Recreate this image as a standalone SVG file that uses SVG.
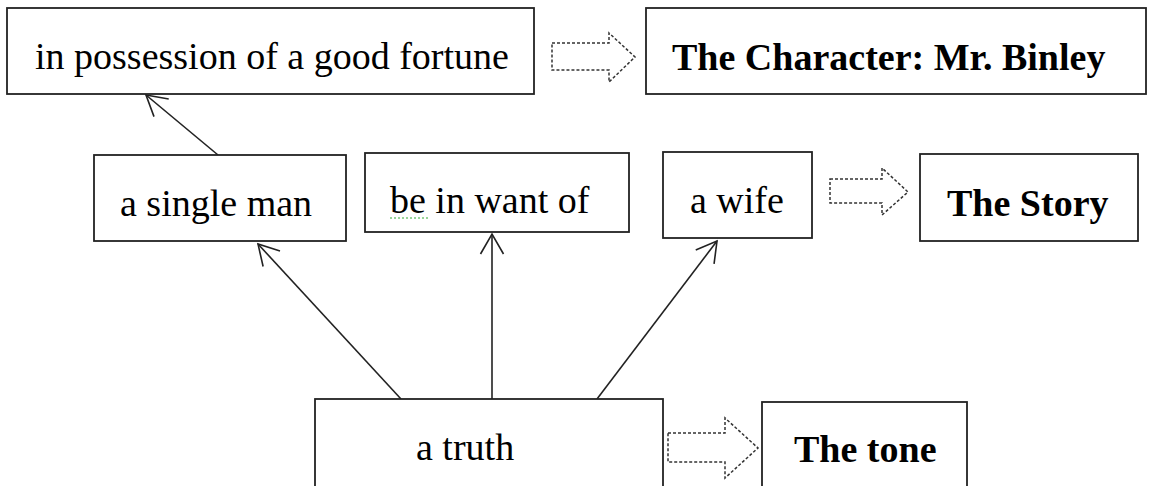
<svg xmlns="http://www.w3.org/2000/svg" width="1151" height="486" viewBox="0 0 1151 486">
<style>
.box{fill:#fff;stroke:#222;stroke-width:1.8}
.t{font-family:"Liberation Serif","Times New Roman",serif;font-size:38px;fill:#000}
.b{font-weight:bold}
.conn{stroke:#222;stroke-width:1.6;fill:none;marker-end:url(#open)}
.blk{fill:#fff;stroke:#333;stroke-width:1.5;stroke-dasharray:3 2}
</style>
<defs>
<marker id="open" markerUnits="userSpaceOnUse" markerWidth="30" markerHeight="30" refX="0" refY="0" viewBox="-25 -15 30 30" orient="auto">
<path d="M-20,-11.5 L0,0 L-20,11.5" fill="none" stroke="#222" stroke-width="1.6"/>
</marker>
</defs>
<rect width="1151" height="486" fill="#fff"/>
<g id="connectors">
<line class="conn" x1="218" y1="155" x2="146" y2="95"/>
<line class="conn" x1="401" y1="399" x2="258" y2="244"/>
<line class="conn" x1="492" y1="399" x2="492" y2="234"/>
<line class="conn" x1="597" y1="399" x2="717" y2="241"/>
<polygon class="blk" points="552,43 609,43 609,33 635,57 609,82 609,70 552,70"/>
<polygon class="blk" points="830,179 882,179 882,168 908,192 882,215 882,203 830,203"/>
<polygon class="blk" points="668,433 725,433 725,418 758,448 725,478 725,462 668,462"/>
</g>
<g id="fortune">
<rect class="box" x="7" y="8" width="527" height="86"/>
<text class="t" x="35" y="69">in possession of a good fortune</text>
</g>
<g id="character">
<rect class="box" x="646" y="8" width="500" height="86"/>
<text class="t b" x="672" y="70">The Character: Mr. Binley</text>
</g>
<g id="single-man">
<rect class="box" x="94" y="155" width="252" height="86"/>
<text class="t" x="120" y="216">a single man</text>
</g>
<g id="want-of">
<rect class="box" x="365" y="153" width="264" height="79"/>
<text class="t" x="390" y="213">be in want of</text>
<line x1="390" y1="218" x2="430" y2="218" stroke="#3a3" stroke-width="1.2" stroke-dasharray="2 2"/>
</g>
<g id="wife">
<rect class="box" x="663" y="152" width="149" height="86"/>
<text class="t" x="690" y="213">a wife</text>
</g>
<g id="story">
<rect class="box" x="920" y="154" width="218" height="87"/>
<text class="t b" x="947" y="216">The Story</text>
</g>
<g id="truth">
<rect class="box" x="315" y="399" width="348" height="95"/>
<text class="t" x="416" y="460">a truth</text>
</g>
<g id="tone">
<rect class="box" x="762" y="402" width="205" height="92"/>
<text class="t b" x="794" y="462">The tone</text>
</g>
</svg>
